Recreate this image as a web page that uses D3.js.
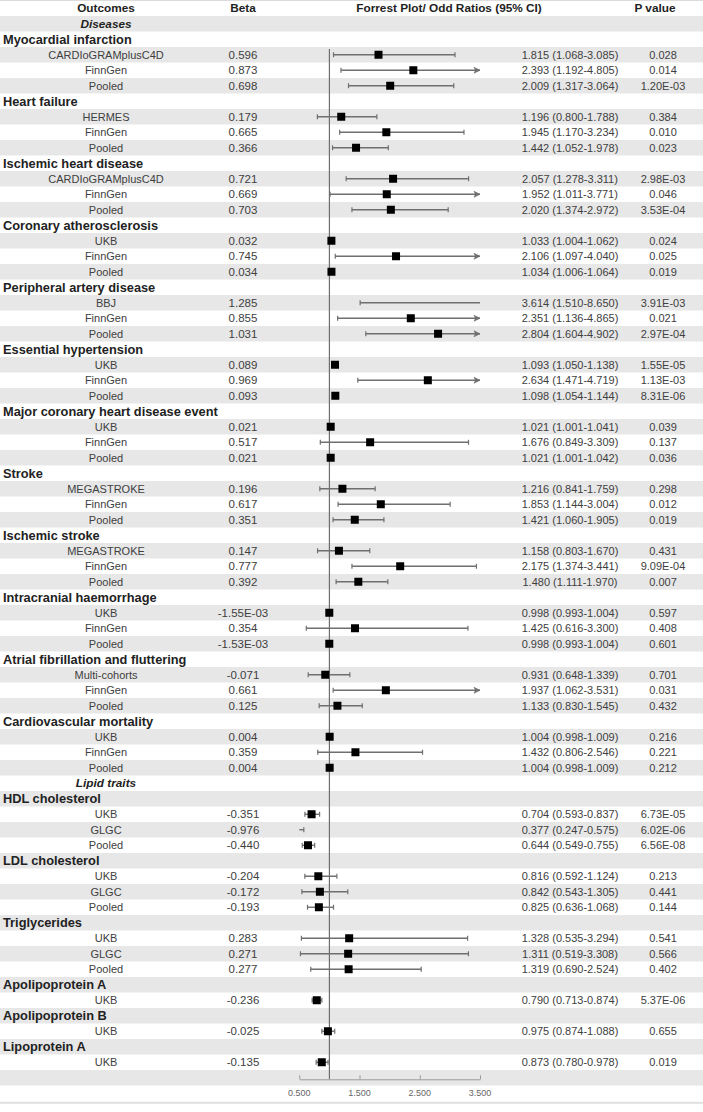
<!DOCTYPE html>
<html><head><meta charset="utf-8">
<script src="https://cdn.jsdelivr.net/npm/d3@7"></script>
<style>body{margin:0;background:#fff}svg{display:block}</style>
</head><body><svg id="c" width="703" height="1112"></svg>
<script>
// ---------- DATA ----------
const headers = ["Outcomes", "Beta", "Forrest Plot/ Odd Ratios (95% CI)", "P value"];
const sections = ["Diseases", "Lipid traits"];
const outcomes = ["Myocardial infarction", "Heart failure", "Ischemic heart disease", "Coronary atherosclerosis",
  "Peripheral artery disease", "Essential hypertension", "Major coronary heart disease event", "Stroke",
  "Ischemic stroke", "Intracranial haemorrhage", "Atrial fibrillation and fluttering", "Cardiovascular mortality",
  "HDL cholesterol", "LDL cholesterol", "Triglycerides", "Apolipoprotein A", "Apolipoprotein B", "Lipoprotein A"];
const outcomeSection = [0,0,0,0,0,0,0,0,0,0,0,0,1,1,1,1,1,1];
const rowOutcome = [0,0,0, 1,1,1, 2,2,2, 3,3,3, 4,4,4, 5,5,5, 6,6,6, 7,7,7, 8,8,8, 9,9,9, 10,10,10, 11,11,11,
  12,12,12, 13,13,13, 14,14,14, 15, 16, 17];
const cohort = ["CARDIoGRAMplusC4D","FinnGen","Pooled", "HERMES","FinnGen","Pooled",
  "CARDIoGRAMplusC4D","FinnGen","Pooled", "UKB","FinnGen","Pooled", "BBJ","FinnGen","Pooled",
  "UKB","FinnGen","Pooled", "UKB","FinnGen","Pooled", "MEGASTROKE","FinnGen","Pooled",
  "MEGASTROKE","FinnGen","Pooled", "UKB","FinnGen","Pooled", "Multi-cohorts","FinnGen","Pooled",
  "UKB","FinnGen","Pooled", "UKB","GLGC","Pooled", "UKB","GLGC","Pooled", "UKB","GLGC","Pooled",
  "UKB", "UKB", "UKB"];
const beta = ["0.596","0.873","0.698", "0.179","0.665","0.366", "0.721","0.669","0.703",
  "0.032","0.745","0.034", "1.285","0.855","1.031", "0.089","0.969","0.093", "0.021","0.517","0.021",
  "0.196","0.617","0.351", "0.147","0.777","0.392", "-1.55E-03","0.354","-1.53E-03",
  "-0.071","0.661","0.125", "0.004","0.359","0.004", "-0.351","-0.976","-0.440",
  "-0.204","-0.172","-0.193", "0.283","0.271","0.277", "-0.236", "-0.025", "-0.135"];
const oddsRatio = [1.815,2.393,2.009, 1.196,1.945,1.442, 2.057,1.952,2.020, 1.033,2.106,1.034,
  3.614,2.351,2.804, 1.093,2.634,1.098, 1.021,1.676,1.021, 1.216,1.853,1.421, 1.158,2.175,1.480,
  0.998,1.425,0.998, 0.931,1.937,1.133, 1.004,1.432,1.004, 0.704,0.377,0.644, 0.816,0.842,0.825,
  1.328,1.311,1.319, 0.790, 0.975, 0.873];
const ciLow = [1.068,1.192,1.317, 0.800,1.170,1.052, 1.278,1.011,1.374, 1.004,1.097,1.006,
  1.510,1.136,1.604, 1.050,1.471,1.054, 1.001,0.849,1.001, 0.841,1.144,1.060, 0.803,1.374,1.111,
  0.993,0.616,0.993, 0.648,1.062,0.830, 0.998,0.806,0.998, 0.593,0.247,0.549, 0.592,0.543,0.636,
  0.535,0.519,0.690, 0.713, 0.874, 0.780];
const ciHigh = [3.085,4.805,3.064, 1.788,3.234,1.978, 3.311,3.771,2.972, 1.062,4.040,1.064,
  8.650,4.865,4.902, 1.138,4.719,1.144, 1.041,3.309,1.042, 1.759,3.004,1.905, 1.670,3.441,1.970,
  1.004,3.300,1.004, 1.339,3.531,1.545, 1.009,2.546,1.009, 0.837,0.575,0.755, 1.124,1.305,1.068,
  3.294,3.308,2.524, 0.874, 1.088, 0.978];
const pValue = ["0.028","0.014","1.20E-03", "0.384","0.010","0.023", "2.98E-03","0.046","3.53E-04",
  "0.024","0.025","0.019", "3.91E-03","0.021","2.97E-04", "1.55E-05","1.13E-03","8.31E-06",
  "0.039","0.137","0.036", "0.298","0.012","0.019", "0.431","9.09E-04","0.007",
  "0.597","0.408","0.601", "0.701","0.031","0.432", "0.216","0.221","0.212",
  "6.73E-05","6.02E-06","6.56E-08", "0.213","0.441","0.144", "0.541","0.566","0.402",
  "5.37E-06", "0.655", "0.019"];
const tickValues = [0.5, 1.5, 2.5, 3.5];

// ---------- LAYOUT ----------
const W = 703, H = 1112;
const svg = d3.select("#c");
const FONT = "'Liberation Sans', Arial, sans-serif";
const rows = [{type: "header"}];
sections.forEach((s, si) => {
  rows.push({type: "section", label: s});
  outcomes.forEach((o, oi) => {
    if (outcomeSection[oi] !== si) return;
    rows.push({type: "outcome", label: o});
    cohort.forEach((c, ci) => { if (rowOutcome[ci] === oi) rows.push({type: "data", i: ci}); });
  });
});
rows.push({type: "axis"});
rows.push({type: "ticks"});

const rowH = 15.5, top0 = 0.5;
const y = d3.scaleBand().domain(d3.range(rows.length)).range([top0, top0 + rows.length * rowH]);
const cy = i => y(i) + y.bandwidth() / 2;
const x = d3.scaleLinear().domain([0.5, 3.5]).range([299.3, 480]);
const xMin = x.domain()[0], xMax = x.domain()[1];

const colName = 106, colBeta = 243, colOR = 570, colP = 663;

// backgrounds
svg.append("g").selectAll("rect").data(rows.map((r, i) => i).filter(i => i % 2 === 1))
  .join("rect").attr("x", 0).attr("width", W).attr("y", i => y(i)).attr("height", y.bandwidth())
  .attr("fill", "#e7e7e7");
svg.append("rect").attr("x", 0).attr("y", 0).attr("width", W).attr("height", 1).attr("fill", "#dcdcdc");
svg.append("rect").attr("x", 0).attr("y", y(rows.length - 1) + y.bandwidth() + 0.8).attr("width", W).attr("height", 2).attr("fill", "#e0e0e0");

const txt = svg.append("g").attr("font-family", FONT);
// header
[colName, colBeta, 449, 655].forEach((cx, k) => {
  txt.append("text").attr("x", cx).attr("y", cy(0)).attr("dy", "0.36em").attr("text-anchor", "middle")
    .attr("font-size", 11.8).attr("font-weight", "bold").attr("fill", "#222").text(headers[k]);
});
rows.forEach((r, i) => {
  const yy = cy(i);
  if (r.type === "section") {
    txt.append("text").attr("x", colName).attr("y", yy).attr("dy", "0.36em").attr("text-anchor", "middle")
      .attr("font-size", 11.8).attr("font-weight", "bold").attr("font-style", "italic").attr("fill", "#222").text(r.label);
  } else if (r.type === "outcome") {
    txt.append("text").attr("x", 3).attr("y", yy).attr("dy", "0.36em")
      .attr("font-size", 12.8).attr("font-weight", "bold").attr("fill", "#222").text(r.label);
  } else if (r.type === "data") {
    const k = r.i, f = d3.format(".3f");
    const g = txt.append("g").attr("fill", "#404040").attr("font-size", 11).attr("text-anchor", "middle");
    g.append("text").attr("x", colName).attr("y", yy).attr("dy", "0.36em").text(cohort[k]);
    g.append("text").attr("x", colBeta).attr("y", yy).attr("dy", "0.36em").attr("font-size", 11.5).text(beta[k]);
    g.append("text").attr("x", colOR).attr("y", yy).attr("dy", "0.36em")
      .text(`${f(oddsRatio[k])} (${f(ciLow[k])}-${f(ciHigh[k])})`);
    g.append("text").attr("x", colP).attr("y", yy).attr("dy", "0.36em").text(pValue[k]);
  }
});

// ---------- FOREST ----------
const plot = svg.append("g");
const firstData = rows.findIndex(r => r.type === "data");
const axisRow = rows.findIndex(r => r.type === "axis");
const axisY = y(axisRow) + 9.3;
plot.append("line").attr("x1", x(1)).attr("x2", x(1)).attr("y1", y(firstData) + 2).attr("y2", axisY)
  .attr("stroke", "#6e6e6e").attr("stroke-width", 1.2);

const ciColor = "#6f6f6f";
rows.forEach((r, i) => {
  if (r.type !== "data") return;
  const k = r.i, yy = cy(i);
  const lo = Math.max(ciLow[k], xMin), hi = Math.min(ciHigh[k], xMax);
  const g = plot.append("g");
  g.append("line").attr("x1", x(lo)).attr("x2", x(hi)).attr("y1", yy).attr("y2", yy)
    .attr("stroke", ciColor).attr("stroke-width", 1.4);
  if (ciLow[k] >= xMin) g.append("line").attr("x1", x(ciLow[k])).attr("x2", x(ciLow[k]))
    .attr("y1", yy - 2.5).attr("y2", yy + 2.5).attr("stroke", ciColor).attr("stroke-width", 1.2);
  if (ciHigh[k] <= xMax) g.append("line").attr("x1", x(ciHigh[k])).attr("x2", x(ciHigh[k]))
    .attr("y1", yy - 2.5).attr("y2", yy + 2.5).attr("stroke", ciColor).attr("stroke-width", 1.2);
  else if (oddsRatio[k] <= xMax) {
    const ax = x(xMax);
    g.append("path").attr("d", `M${ax},${yy} L${ax - 6},${yy - 3} L${ax - 4.5},${yy} L${ax - 6},${yy + 3} Z`)
      .attr("fill", ciColor).attr("stroke", ciColor).attr("stroke-width", 0.6);
  }
  if (oddsRatio[k] >= xMin && oddsRatio[k] <= xMax) {
    const s = 8;
    g.append("rect").attr("x", x(oddsRatio[k]) - s / 2).attr("y", yy - s / 2).attr("width", s).attr("height", s)
      .attr("fill", "#000");
  }
});

// axis
const axis = d3.axisTop(x).tickValues(tickValues).tickSize(4).tickSizeOuter(0).tickFormat(d3.format(".3f"));
const ag = plot.append("g").attr("transform", `translate(0,${axisY})`).call(axis);
ag.select(".domain").attr("stroke", "#9a9a9a");
ag.selectAll(".tick line").attr("stroke", "#9a9a9a");
ag.selectAll(".tick text").remove();
const tickRow = rows.findIndex(r => r.type === "ticks");
plot.append("g").selectAll("text").data(tickValues).join("text")
  .attr("x", d => x(d)).attr("y", cy(tickRow)).attr("dy", "0.36em").attr("text-anchor", "middle")
  .attr("font-family", FONT).attr("font-size", 9).attr("fill", "#666").text(d3.format(".3f"));
</script></body></html>
